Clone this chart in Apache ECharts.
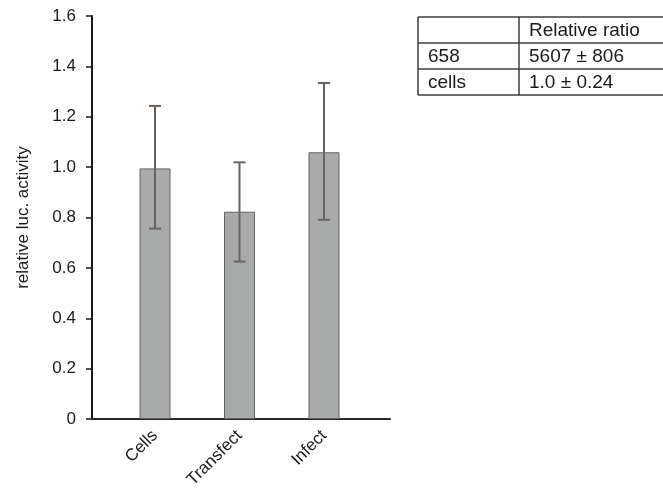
<!DOCTYPE html>
<html>
<head>
<meta charset="utf-8">
<script src="https://cdn.jsdelivr.net/npm/echarts@6/dist/echarts.min.js"></script>
<style>
html,body{margin:0;padding:0;background:#fff;}
#chart{width:663px;height:496px;}
</style>
</head>
<body>
<div id="chart"></div>
<script>
var categories = ['Cells', 'Transfect', 'Infect'];
var values = [0.995, 0.823, 1.059];
var errLow = [0.756, 0.625, 0.791];
var errHigh = [1.243, 1.019, 1.334];
var yTicks = [0, 0.2, 0.4, 0.6, 0.8, 1.0, 1.2, 1.4, 1.6];
var tableHeader = ['', 'Relative ratio'];
var tableRows = [['658', '5607 \u00b1 806'], ['cells', '1.0 \u00b1 0.24']];

var FONT = '"Liberation Sans", Arial, Helvetica, sans-serif';
var chart = echarts.init(document.getElementById('chart'), null, {renderer: 'canvas'});

var idx = categories.map(function (c, i) { return i; });
var barData = values.map(function (v, i) { return [i, v]; });
var errData = values.map(function (v, i) { return [i, errLow[i], errHigh[i]]; });

// table graphics
var tLeft = 418, tRight = 690, tTop = 17, rowH = 26, colX = 519;
var allRows = [tableHeader].concat(tableRows);
var graphics = [];
var lineStyle = {stroke: '#3c3c3c', lineWidth: 1.5};
for (var r = 0; r <= allRows.length; r++) {
  graphics.push({type: 'line', shape: {x1: tLeft, y1: tTop + r * rowH, x2: tRight, y2: tTop + r * rowH}, style: lineStyle});
}
graphics.push({type: 'line', shape: {x1: tLeft, y1: tTop, x2: tLeft, y2: tTop + allRows.length * rowH}, style: lineStyle});
graphics.push({type: 'line', shape: {x1: colX, y1: tTop, x2: colX, y2: tTop + allRows.length * rowH}, style: lineStyle});
allRows.forEach(function (row, r) {
  var cy = tTop + r * rowH + rowH / 2 + 1;
  graphics.push({type: 'text', x: tLeft + 10, y: cy, style: {text: row[0], font: '19px ' + FONT, fill: '#1a1a1a', verticalAlign: 'middle'}});
  graphics.push({type: 'text', x: colX + 10, y: cy, style: {text: row[1], font: '19px ' + FONT, fill: '#1a1a1a', verticalAlign: 'middle'}});
});

var option = {
  animation: false,
  backgroundColor: '#ffffff',
  grid: {left: 92, top: 16, width: 298, height: 403, containLabel: false},
  xAxis: {
    type: 'value',
    min: -0.7456,
    max: 2.781,
    splitLine: {show: false},
    axisLine: {show: true, onZero: false, lineStyle: {color: '#2e2826', width: 2}},
    axisTick: {show: false},
    axisLabel: {
      customValues: idx,
      rotate: 45,
      margin: 14,
      fontSize: 17,
      fontFamily: FONT,
      color: '#1a1a1a',
      formatter: function (v) { return categories[Math.round(v)] || ''; }
    }
  },
  yAxis: {
    type: 'value',
    min: 0,
    max: 1.6,
    interval: 0.2,
    name: 'relative luc. activity',
    nameLocation: 'middle',
    nameGap: 60,
    nameRotate: 90,
    nameTextStyle: {fontSize: 17, fontFamily: FONT, color: '#1a1a1a'},
    splitLine: {show: false},
    axisLine: {show: true, onZero: false, lineStyle: {color: '#1a1a1a', width: 2}},
    axisTick: {show: true, length: 6, inside: false, lineStyle: {color: '#1a1a1a', width: 1.5}},
    axisLabel: {
      margin: 16,
      fontSize: 17,
      fontFamily: FONT,
      color: '#1a1a1a',
      formatter: function (v) { return v === 0 ? '0' : v.toFixed(1); }
    }
  },
  series: [
    {
      type: 'bar',
      data: barData,
      barWidth: 31,
      itemStyle: {color: '#a8aaa9', borderColor: '#626463', borderWidth: 1}
    },
    {
      type: 'custom',
      data: errData,
      z: 10,
      renderItem: function (params, api) {
        var x = api.value(0);
        var lo = api.coord([x, api.value(1)]);
        var hi = api.coord([x, api.value(2)]);
        var hw = 6;
        var st = {stroke: '#6a625d', lineWidth: 2};
        return {
          type: 'group',
          children: [
            {type: 'line', shape: {x1: hi[0], y1: hi[1], x2: lo[0], y2: lo[1]}, style: st},
            {type: 'line', shape: {x1: hi[0] - hw, y1: hi[1], x2: hi[0] + hw, y2: hi[1]}, style: st},
            {type: 'line', shape: {x1: lo[0] - hw, y1: lo[1], x2: lo[0] + hw, y2: lo[1]}, style: st}
          ]
        };
      }
    }
  ],
  graphic: graphics
};
chart.setOption(option);
</script>
</body>
</html>
